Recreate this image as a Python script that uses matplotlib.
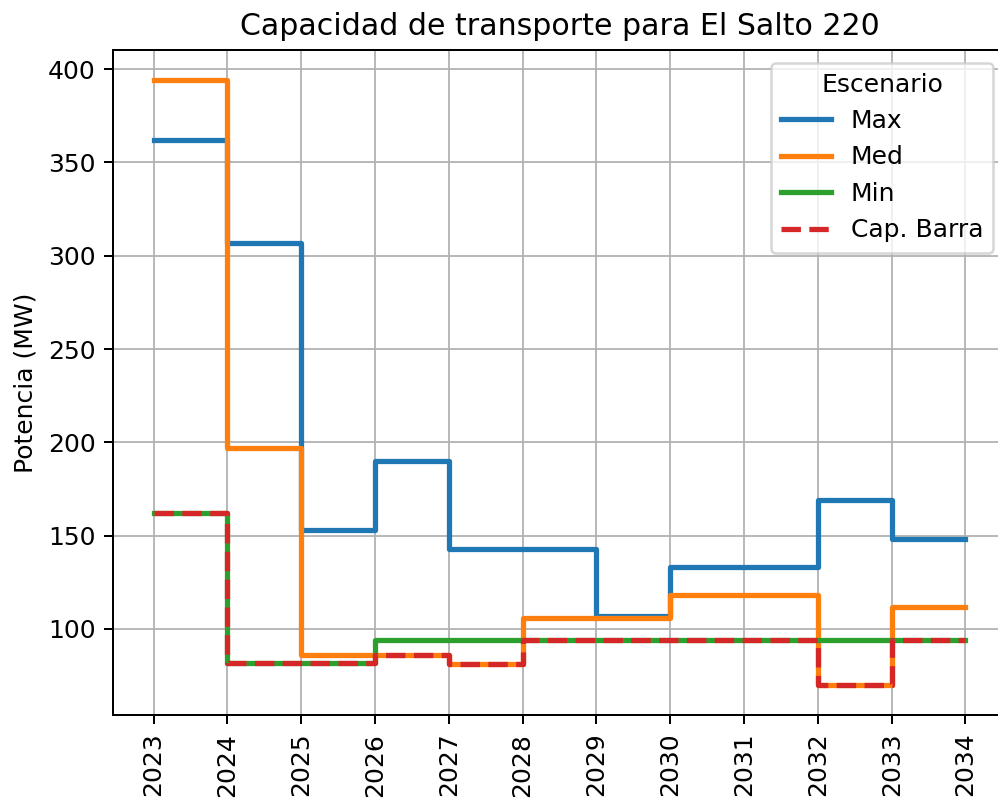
import pandas as pd
import matplotlib.pyplot as plt

# datos (MW por año)
years = [2023, 2024, 2025, 2026, 2027, 2028, 2029, 2030, 2031, 2032, 2033, 2034]
cap_max = [362, 307, 153, 190, 143, 143, 107, 133, 133, 169, 148, 148]
cap_med = [394, 197, 86, 86, 81, 106, 106, 118, 118, 70, 112, 112]
cap_min = [162, 82, 82, 94, 94, 94, 94, 94, 94, 94, 94, 94]
cap_barra = [162, 82, 82, 86, 81, 94, 94, 94, 94, 70, 94, 94]

fechas = pd.to_datetime([f"{y}-01-01" for y in years])

DPI = 180
fig = plt.figure(figsize=(998 / DPI, 800 / DPI), dpi=DPI)
ax = fig.add_axes([0.1132, 0.106, 1.008 - 0.1132, 0.9375 - 0.106])

lw = 2.1
ax.step(fechas, cap_max, where="post", linewidth=lw, color="#1f77b4", label="Max")
ax.step(fechas, cap_med, where="post", linewidth=lw, color="#ff7f0e", label="Med")
ax.step(fechas, cap_min, where="post", linewidth=lw, color="#2ca02c", label="Min")
ax.step(fechas, cap_barra, where="post", linewidth=lw, color="#d62728",
        linestyle="--", label="Cap. Barra")

ax.set_xticks(fechas)
ax.set_xticklabels([str(y) for y in years], rotation=90)
ax.set_ylabel("Potencia (MW)")
ax.set_title("Capacidad de transporte para El Salto 220")
ax.grid(True, linewidth=0.7)
ax.legend(title="Escenario", loc="upper right")

fig.savefig("out.png", dpi=DPI)
plt.close()
